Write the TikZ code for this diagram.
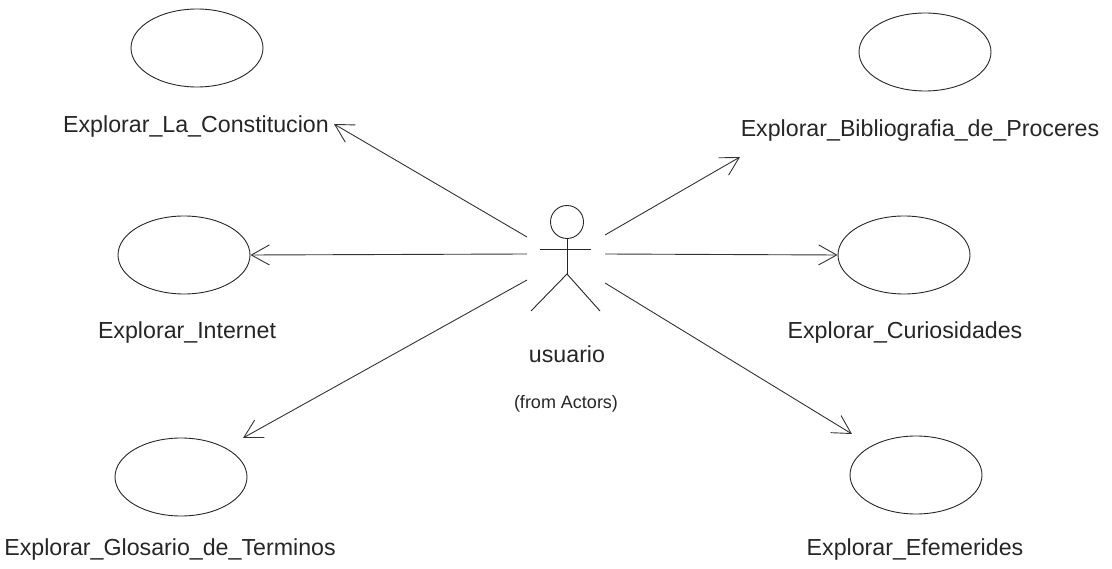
\documentclass[tikz,border=0pt]{standalone}
\usepackage{fontspec}
\setmainfont{Liberation Sans}
\usetikzlibrary{arrows.meta,shapes.geometric}
\begin{document}
\begin{tikzpicture}[x=1pt,y=-1pt,
  usecase/.style={draw=black!85,line width=0.9pt,ellipse,minimum width=132pt,minimum height=78pt,inner sep=0pt},
  uclabel/.style={font=\fontsize{23.2}{26}\selectfont,text=black!85,inner sep=0pt,anchor=center},
  assoc/.style={draw=black!80,line width=0.9pt,-{Straight Barb[length=18pt,width=20pt,line width=0.9pt]}},
  stick/.style={draw=black!85,line width=0.9pt}]
\useasboundingbox (0,0) rectangle (1112,569);
% use cases
\node[usecase] (ucCon) at (197,48) {};
\node[usecase] (ucInt) at (184,255) {};
\node[usecase] (ucGlo) at (181,477) {};
\node[usecase] (ucBib) at (925,52) {};
\node[usecase] (ucCur) at (904,255) {};
\node[usecase] (ucEfe) at (916,475) {};
% use case names
\node[uclabel] (lCon) at (196,127) {Explorar\_La\_Constitucion};
\node[uclabel] (lInt) at (187,333) {Explorar\_Internet};
\node[uclabel] (lGlo) at (170,550) {Explorar\_Glosario\_de\_Terminos};
\node[uclabel] (lBib) at (920,131) {Explorar\_Bibliografia\_de\_Proceres};
\node[uclabel] (lCur) at (905,333) {Explorar\_Curiosidades};
\node[uclabel] (lEfe) at (915,550) {Explorar\_Efemerides};
% actor
\node[circle,draw=black!85,line width=0.9pt,minimum size=33pt,inner sep=0pt] (head) at (567,222) {};
\coordinate (hip) at (567,274);
\coordinate (armL) at (540,249);
\coordinate (armR) at (591,249);
\coordinate (footL) at (531,311);
\coordinate (footR) at (600,311);
\draw[stick] (head.south) -- (hip);
\draw[stick] (armL) -- (armR);
\draw[stick] (footL) -- (hip) -- (footR);
\node[uclabel] (actor) at (567,354) {usuario};
\node[font=\fontsize{18}{20}\selectfont,text=black!85,inner sep=0pt] (pkg) at (566,404) {(from Actors)};
% association ends on the actor side
\coordinate (sCon) at (527,237);
\coordinate (sInt) at (527,254);
\coordinate (sGlo) at (527,280);
\coordinate (sBib) at (605,235);
\coordinate (sCur) at (605,254);
\coordinate (sEfe) at (605,283);
% association ends on the use case side
\coordinate (tCon) at (334,124);
\coordinate (tGlo) at (243,438);
\coordinate (tBib) at (740,157);
\coordinate (tEfe) at (852,434);
\draw[assoc] (sCon) -- (tCon);
\draw[assoc] (sInt) -- (ucInt.east);
\draw[assoc] (sGlo) -- (tGlo);
\draw[assoc] (sBib) -- (tBib);
\draw[assoc] (sCur) -- (ucCur.west);
\draw[assoc] (sEfe) -- (tEfe);
\end{tikzpicture}
\end{document}
